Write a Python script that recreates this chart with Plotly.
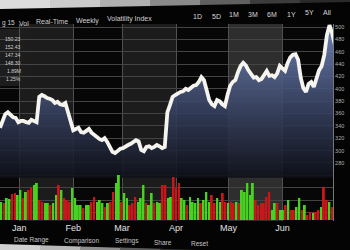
import plotly.graph_objects as go
import pandas as pd

# ---------------- data ----------------
price_start = "2013-12-21"
price = [337, 350, 359, 362, 358, 354, 353, 346, 348, 348, 346, 345, 350, 348, 346,
         387, 390, 388, 385, 384, 382, 377, 379, 375, 374, 377, 362, 345, 333, 335,
         337, 330, 329, 332, 335, 329, 325, 322, 319, 317, 320, 314, 306, 298, 296,
         299, 303, 304, 307, 309, 311, 314, 317, 315, 301, 299, 306, 307, 304, 306,
         309, 307, 304, 306, 362, 374, 387, 390, 393, 395, 396, 400, 398, 401, 405,
         406, 411, 419, 414, 398, 382, 375, 372, 382, 380, 375, 372, 390, 405, 411,
         414, 427, 437, 442, 438, 430, 425, 418, 419, 414, 416, 424, 429, 421, 422,
         419, 425, 437, 433, 429, 442, 451, 455, 456, 447, 418, 401, 395, 408, 411,
         403, 418, 430, 437, 455, 487, 503, 490, 472]

volume = [18, 17, 22, 21, 26, 27, 25, 30, 22, 28, 30, 33, 35, 37, 20, 18, 17, 17, 15, 17,
          25, 35, 30, 22, 20, 18, 32, 22, 15, 15, 12, 15, 15, 18, 23, 18, 20, 17, 13, 17,
          18, 28, 37, 45, 18, 27, 22, 15, 17, 23, 18, 22, 35, 17, 15, 27, 17,
          18, 17, 35, 35, 22, 23, 43, 32, 37, 22, 20, 15, 23, 18, 17, 22, 17, 20, 28,
          18, 25, 17, 22, 18, 27, 18, 17, 18, 17, 18, 17, 30, 28, 37, 25, 37, 20, 15,
          17, 17, 23, 28, 10, 17, 17, 10, 10, 15, 20, 10, 10, 13, 22, 10, 15, 5, 8, 7,
          8, 10, 13, 33, 20, 18, 13]
direction = ["g", "r", "g", "g", "r", "r", "g", "g", "r", "g", "r", "r", "g", "g", "r", "r", "g", "g", "r", "g",
             "g", "r", "g", "r", "r", "r", "g", "g", "g", "g", "r", "g", "g", "r", "r", "g", "g", "g", "r", "g",
             "r", "r", "g", "g", "r", "g", "g", "r", "r", "r", "g", "g", "g", "r", "g", "g", "r",
             "g", "g", "r", "r", "g", "g", "r", "r", "r", "g", "g", "r", "g", "g", "g", "g", "r", "g", "g",
             "g", "r", "r", "g", "g", "r", "r", "g", "r", "r", "g", "r", "g", "g", "g", "g", "g", "r", "r",
             "r", "r", "r", "r", "g", "g", "r", "g", "g", "r", "g", "r", "r", "g", "g", "r", "g", "r", "r", "g",
             "r", "r", "g", "r", "r", "g", "r"]

y_ticks = [200, 220, 240, 260, 280, 300, 320, 340, 360, 380, 400, 420, 440, 460, 480, 500]
info_values = ["150.23", "152.43", "147.34", "148.30", "1.89M", "1.25%"]
header_left = ["g 15", "Vol", "Real-Time", "Weekly", "Volatility Index"]
header_right = ["1D", "5D", "1M", "3M", "6M", "1Y", "5Y", "All"]
footer = ["Date Range", "Comparison", "Settings", "Share", "Reset"]

# ---------------- geometry helpers ----------------
W, H = 350, 250
ML, MR, MT, MB = 0, 17, 24, 29
PW, PH = W - ML - MR, H - MT - MB


def px(x):
    return (x - ML) / PW


def py(y):
    return (H - MB - y) / PH


price_dates = pd.date_range(price_start, periods=len(price), freq="36h")
vol_dates = pd.date_range("2013-12-21 18:00", "2014-06-29 12:00", periods=len(volume))
bar_colors = ["#46d21f" if d == "g" else "#c8161b" for d in direction]
baseline = [256] * len(price)

fig = go.Figure()
fig.add_trace(go.Scatter(x=price_dates, y=baseline, mode="lines",
                         line=dict(width=0, color="rgba(0,0,0,0)"), hoverinfo="skip"))
fig.add_trace(go.Scatter(
    x=price_dates, y=price, mode="lines", fill="tonexty",
    line=dict(color="#f6f4ee", width=3.8),
    fillgradient=dict(type="vertical", start=256, stop=480,
                      colorscale=[[0, "rgba(14,16,24,0.9)"], [0.45, "rgba(52,62,92,0.88)"],
                                  [1, "rgba(106,124,175,0.92)"]]),
))
fig.add_trace(go.Bar(x=vol_dates, y=volume, marker=dict(color=bar_colors, line=dict(width=0)),
                     yaxis="y2"))

shapes = []
# alternating column shading
for a, b, c in [("2014-01-01", "2014-02-01", "#1c1c1c"), ("2014-03-01", "2014-04-01", "#1c1c1c"),
                ("2014-05-01", "2014-06-01", "#2e2e2e")]:
    shapes.append(dict(type="rect", xref="x", yref="paper", x0=a, x1=b, y0=0, y1=1,
                       fillcolor=c, line=dict(width=0), layer="below"))
# info box
shapes.append(dict(type="rect", xref="paper", yref="paper", x0=px(0), x1=px(25), y0=py(86), y1=py(29),
                   fillcolor="#1d1d1d", line=dict(width=0), layer="below"))


def poly(pts, color):
    d = "M " + " L ".join(f"{px(x):.4f},{py(y):.4f}" for x, y in pts) + " Z"
    return dict(type="path", xref="paper", yref="paper", path=d, fillcolor=color, line=dict(width=0))


# top bezel
top_cols = ["#dcdcdc", "#cbcbcb", "#b0b0b0", "#8a8a8a", "#606060", "#3c3c3c", "#2a2a2a"]
for i, c in enumerate(top_cols):
    x0, x1 = i * 50, (i + 1) * 50 + 1
    shapes.append(poly([(x0, -2), (x1, -2), (x1, 9 - x1 * 0.02), (x0, 9 - x0 * 0.02)], c))
# bottom bezel
bot_cols = ["#d0d0d0", "#b8b8b8", "#8e8e8e", "#5c5c5c", "#303030"]
for i, c in enumerate(bot_cols):
    x0, x1 = i * 40, (i + 1) * 40 + 1
    shapes.append(poly([(x0, 244 + x0 * 0.03), (x1, 244 + x1 * 0.03), (x1, 252), (x0, 252)], c))

annotations = []


def ann(text, x, y, size, color, xanchor="center"):
    annotations.append(dict(text=text, x=px(x), y=py(y), xref="paper", yref="paper",
                            showarrow=False, xanchor=xanchor, yanchor="middle",
                            font=dict(size=size, color=color, family="Liberation Sans")))


for t, x, y, s in zip(header_left, [0, 24, 52, 87, 129], [23, 23, 22, 21, 19], [6.5, 7, 7, 7, 7]):
    ann(t, x, y, s, "#d0d0d0", "left" if t == "g 15" else "center")
for t, x, y in zip(header_right, [197, 216, 234, 253, 272, 291, 309, 327], [16, 16, 15, 15, 15, 14, 13, 12]):
    ann(t, x, y, 7, "#d8d8d8")
for t, y in zip(info_values, [39, 47, 55, 63, 71, 79]):
    ann(t, 23, y, 5, "#d0d0d0", "right")
for t, x, y in zip(footer, [31, 81, 127, 163, 199], [240, 241, 241, 242, 243]):
    ann(t, x, y, 6.5, "#c4c4c4")

fig.update_layout(
    width=W, height=H, margin=dict(l=ML, r=MR, t=MT, b=MB),
    paper_bgcolor="#040404", plot_bgcolor="#070707", showlegend=False, bargap=0.3,
    xaxis=dict(type="date", range=["2013-12-21", "2014-06-30"], tickformat="%b", dtick="M1",
               tick0="2014-01-01", showgrid=True, gridcolor="#505050", gridwidth=1, ticks="",
               tickfont=dict(size=9, color="#e2e2e2", family="Liberation Sans"), zeroline=False,
               showline=False, fixedrange=True),
    yaxis=dict(range=[186.1, 504.9], side="right", tickvals=y_ticks,
               ticktext=["" if v < 280 else str(v) for v in y_ticks],
               tickfont=dict(size=5.5, color="#b0b0b0", family="Liberation Sans"),
               gridcolor="#444444", gridwidth=1, showline=True, linecolor="#777777",
               zeroline=False, ticks=""),
    yaxis2=dict(overlaying="y", range=[-1, PH - 1], visible=False),
    shapes=shapes, annotations=annotations,
)

fig.write_html("out.html")
